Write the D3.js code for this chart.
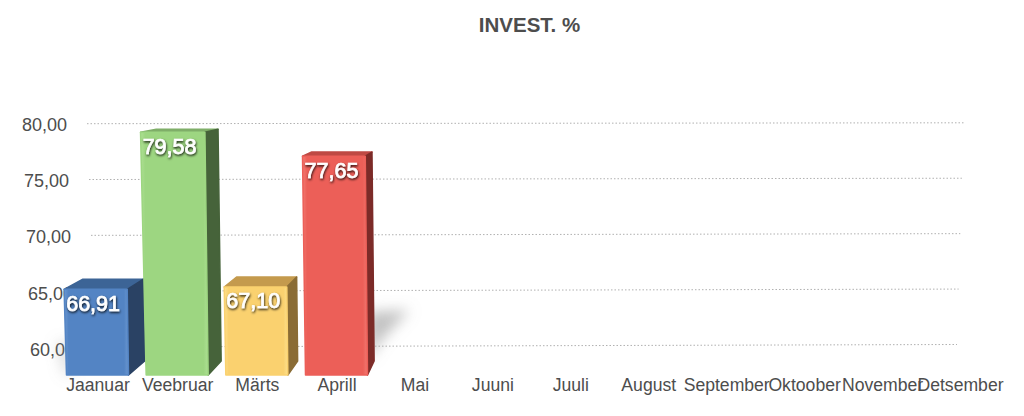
<!DOCTYPE html>
<html><head><meta charset="utf-8">
<script src="https://cdn.jsdelivr.net/npm/d3@7/dist/d3.min.js"></script>
<style>
html,body{margin:0;padding:0;background:#fff}
svg{display:block}
text{font-family:"Liberation Sans",Arial,sans-serif}
</style></head><body><svg id="c" width="1024" height="416"></svg>
<script>
const title = "INVEST. %";
const months = ["Jaanuar","Veebruar","Märts","Aprill","Mai","Juuni","Juuli","August","September","Oktoober","November","Detsember"];
const values = [66.91,79.58,67.10,77.65];
const valueLabels = ["66,91","79,58","67,10","77,65"];
const yTicks = [60,65,70,75,80];
const yTickLabels = ["60,00","65,00","70,00","75,00","80,00"];
const faceColors = ["#5384c4","#9dd681","#fad16f","#ec5f58"];
const faceEdges  = ["#6b97d0","#aee094","#fde08c","#f27a72"];
const sideColors = ["#2a4264","#46633a","#8a6c35","#7c2b28"];
const topColors  = ["#3c6496","#7fae68","#c49a4d","#bf4a44"];

const svg = d3.select("#c");
const defs = svg.append("defs");
defs.append("filter").attr("id","blur").attr("x","-80%").attr("y","-80%").attr("width","260%").attr("height","260%")
  .append("feGaussianBlur").attr("stdDeviation",7);
const ds = defs.append("filter").attr("id","ts").attr("x","-20%").attr("y","-30%").attr("width","140%").attr("height","170%");
ds.append("feDropShadow").attr("dx",0.6).attr("dy",1.4).attr("stdDeviation",1).attr("flood-color","#000").attr("flood-opacity",0.9);

// scales
const xIdx = d3.scaleLinear().domain([0,3,11]).range([97.5,336.5,960]);
const yFront = d3.scaleLinear().domain([60,80]).range([375,127]);
const gridYL = d3.scaleLinear().domain([60,80]).range([347,123.7]);
const gridYR = d3.scaleLinear().domain([60,80]).range([344.5,122.8]);
const gridXL = d3.scaleLinear().domain([60,80]).range([95,87]);
const gridXR = d3.scaleLinear().domain([60,80]).range([957,963.5]);
const yText  = d3.scaleLinear().domain([60,80]).range([349,124]);
const yTextR = d3.scaleLinear().domain([60,80]).range([75,67]);

// title
svg.append("text").attr("x",529.5).attr("y",32).attr("text-anchor","middle")
  .attr("font-size",20.5).attr("font-weight",700).attr("fill","#4d4d4d").text(title);

// grid
svg.append("g").selectAll("line").data(yTicks).join("line")
  .attr("x1",gridXL).attr("x2",gridXR).attr("y1",gridYL).attr("y2",gridYR)
  .attr("stroke","#b0b0b0").attr("stroke-width",1).attr("stroke-dasharray","1.5 2");

// y axis labels
const yAxisG = svg.append("g").call(d3.axisLeft(yText).tickValues(yTicks).tickSize(0)
   .tickFormat((d,i)=>yTickLabels[i]));
yAxisG.select(".domain").remove();
yAxisG.selectAll("text").attr("font-size",18).attr("fill","#4d4d4d")
  .attr("x",d=>yTextR(d)).attr("dy","0.35em").attr("text-anchor","end")
  .style("font-family",'"Liberation Sans",Arial,sans-serif');

// x axis labels
const xAxisG = svg.append("g").attr("transform","translate(0,375)")
  .call(d3.axisBottom(xIdx).tickValues(d3.range(months.length)).tickSize(0).tickFormat((d,i)=>months[i]));
xAxisG.select(".domain").remove();
xAxisG.selectAll("text").attr("font-size",17.6).attr("fill","#4d4d4d").attr("y",4).attr("dy","0.71em")
  .style("font-family",'"Liberation Sans",Arial,sans-serif');

// bar geometry (front face with perspective to a vanishing point)
const halfW = 31, vx = 533, vy = 65, kx = 0.04, ky = 0.045;
const leanL = x => 0.028 - 0.00006*(x-97);
const leanR = x => 0.015 - 0.00002*(x-97);
const geo = values.map((v,i)=>{
  const cx = xIdx(i), yT = yFront(v), yB = yFront(60), h = yB-yT;
  const p = {
    bl:[cx-halfW,yB], br:[cx+halfW,yB],
    tl:[cx-halfW-h*leanL(cx),yT], tr:[cx+halfW-h*leanR(cx),yT]
  };
  const back = q => [q[0]+kx*(vx-q[0]), q[1]-ky*(q[1]-vy)];
  return {i,v,cx,p,btl:back(p.tl),btr:back(p.tr),bbr:back(p.br)};
});
const poly = a => a.map(q=>q.join(",")).join(" ");

// floor shadows
const shadowG = svg.append("g").attr("filter","url(#blur)");
geo.forEach(g=>{
  const i=g.i;
  if(i===3) shadowG.append("polygon").attr("fill","#999").attr("opacity",0.6)
     .attr("points",poly([[g.p.br[0],360],[g.p.br[0],312],[g.p.br[0]+42,310],[g.p.br[0]+14,340]]));
  if(i===0) shadowG.append("polygon").attr("fill","#999").attr("opacity",0.35)
     .attr("points",poly([[g.p.bl[0]-10,342],[g.p.bl[0]+6,342],[g.p.bl[0]+6,375],[g.p.bl[0]-2,375]]));
});

// gradients
geo.forEach(g=>{
  const gr = defs.append("linearGradient").attr("id","f"+g.i).attr("x1",0).attr("x2",1).attr("y1",0).attr("y2",0);
  gr.append("stop").attr("offset",0).attr("stop-color",faceEdges[g.i]);
  gr.append("stop").attr("offset",0.07).attr("stop-color",faceColors[g.i]);
  gr.append("stop").attr("offset",0.93).attr("stop-color",faceColors[g.i]);
  gr.append("stop").attr("offset",1).attr("stop-color",faceEdges[g.i]);
});

// bars
const bars = svg.append("g").selectAll("g").data(geo).join("g");
bars.append("polygon").attr("points",d=>poly([d.p.tl,d.btl,d.btr,d.p.tr])).attr("fill",d=>topColors[d.i]).attr("stroke",d=>topColors[d.i]).attr("stroke-width",1.5).attr("stroke-linejoin","round");
bars.append("polygon").attr("points",d=>poly([d.p.tr,d.btr,d.bbr,d.p.br])).attr("fill",d=>sideColors[d.i]).attr("stroke",d=>sideColors[d.i]).attr("stroke-width",1.5).attr("stroke-linejoin","round");
bars.append("polygon").attr("points",d=>poly([d.p.tl,d.p.tr,d.p.br,d.p.bl])).attr("fill",d=>`url(#f${d.i})`).attr("stroke",d=>faceColors[d.i]).attr("stroke-width",1.5).attr("stroke-linejoin","round");

// value labels
svg.append("g").selectAll("text").data(geo).join("text")
  .attr("x",d=>d.p.tl[0]+29).attr("y",d=>d.p.tl[1]+21.5)
  .attr("text-anchor","middle").attr("font-size",21.5).attr("font-weight",400)
  .attr("fill","#fff").attr("stroke","#fff").attr("stroke-width",0.7).attr("filter","url(#ts)")
  .text((d,i)=>valueLabels[i]);
</script></body></html>
